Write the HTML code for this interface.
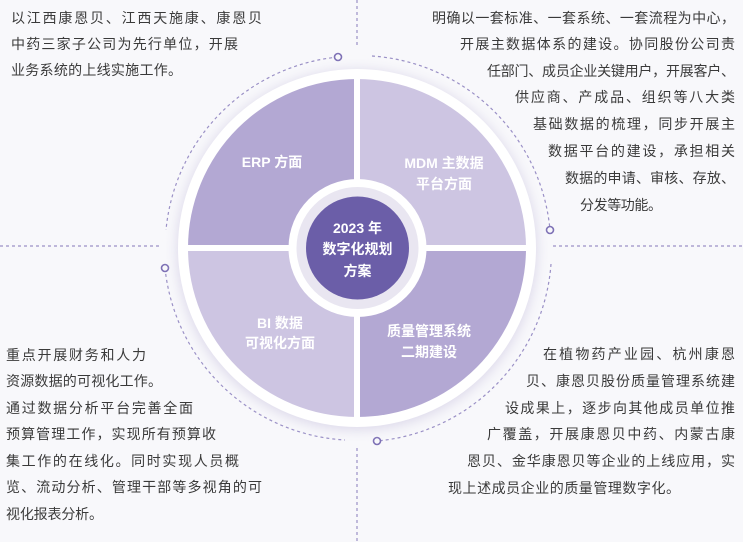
<!DOCTYPE html>
<html><head><meta charset="utf-8"><style>
html,body{margin:0;padding:0;background:#f8f8fb;}
svg{display:block;}
text{font-family:"Liberation Sans","Noto Sans CJK SC",sans-serif;}
.t{font-size:14px;fill:#3a3a3a;}
.w{font-size:14px;fill:#fff;font-weight:bold;}
</style></head><body>
<svg width="743" height="542" viewBox="0 0 743 542" xmlns="http://www.w3.org/2000/svg">
<defs>
<filter id="sh" x="-20%" y="-20%" width="140%" height="140%"><feGaussianBlur stdDeviation="6"/></filter>
</defs>
<rect width="743" height="542" fill="#f8f8fb"/>
<!-- dashed guide lines -->
<g stroke="#9a90c6" stroke-width="1.2" stroke-dasharray="3,3" fill="none">
<line x1="357" y1="0" x2="357" y2="48"/>
<line x1="357" y1="448" x2="357" y2="542"/>
<line x1="0" y1="246" x2="160" y2="246"/>
<line x1="553" y1="246" x2="743" y2="246"/>
<path d="M338 57 A192 192 0 0 0 166 230"/>
<path d="M372 56 A192 192 0 0 1 550 230"/>
<path d="M551 264 A192 192 0 0 1 377 441"/>
<path d="M165 268 A192 192 0 0 0 345 440"/>
</g>
<g fill="#f8f8fb" stroke="#7d70b5" stroke-width="1.6">
<circle cx="338" cy="57" r="3.5"/>
<circle cx="550" cy="230" r="3.5"/>
<circle cx="165" cy="268" r="3.5"/>
<circle cx="377" cy="441" r="3.5"/>
</g>
<!-- disc -->
<circle cx="357" cy="250" r="180" fill="#dcd8ea" filter="url(#sh)"/>
<circle cx="357" cy="248" r="179" fill="#fff"/>
<clipPath id="c"><circle cx="357" cy="248" r="169"/></clipPath>
<g clip-path="url(#c)">
<rect x="180" y="70" width="174" height="175" fill="#b3a8d3"/>
<rect x="360" y="70" width="180" height="175" fill="#cdc5e2"/>
<rect x="180" y="251" width="174" height="180" fill="#cdc5e2"/>
<rect x="360" y="251" width="180" height="180" fill="#b3a8d3"/>
</g>
<circle cx="357.5" cy="248" r="69" fill="#fff"/>
<circle cx="357.5" cy="248" r="61" fill="#e9e6f1"/>
<circle cx="357.5" cy="248" r="51.5" fill="#6b5ea8"/>
<g text-anchor="middle">
<text class="w" x="272" y="167">ERP 方面</text>
<text class="w" x="444" y="168">MDM 主数据</text>
<text class="w" x="444" y="189">平台方面</text>
<text class="w" x="280" y="328">BI 数据</text>
<text class="w" x="280" y="348">可视化方面</text>
<text class="w" x="429" y="336">质量管理系统</text>
<text class="w" x="429" y="357">二期建设</text>
<text class="w" x="357.5" y="233">2023 年</text>
<text class="w" x="357.5" y="254">数字化规划</text>
<text class="w" x="357.5" y="276">方案</text>
</g>
<!-- top-left -->
<text class="t" x="11" y="23" textLength="251" lengthAdjust="spacing">以江西康恩贝、江西天施康、康恩贝</text>
<text class="t" x="11" y="49" textLength="227" lengthAdjust="spacing">中药三家子公司为先行单位，开展</text>
<text class="t" x="11" y="75" textLength="171" lengthAdjust="spacing">业务系统的上线实施工作。</text>
<!-- top-right -->
<text class="t" x="432" y="23" textLength="303" lengthAdjust="spacing">明确以一套标准、一套系统、一套流程为中心，</text>
<text class="t" x="460" y="49" textLength="275" lengthAdjust="spacing">开展主数据体系的建设。协同股份公司责</text>
<text class="t" x="487" y="76" textLength="248" lengthAdjust="spacing">任部门、成员企业关键用户，开展客户、</text>
<text class="t" x="515" y="102" textLength="220" lengthAdjust="spacing">供应商、产成品、组织等八大类</text>
<text class="t" x="533" y="129" textLength="202" lengthAdjust="spacing">基础数据的梳理，同步开展主</text>
<text class="t" x="548" y="156" textLength="187" lengthAdjust="spacing">数据平台的建设，承担相关</text>
<text class="t" x="565" y="183" textLength="170" lengthAdjust="spacing">数据的申请、审核、存放、</text>
<text class="t" x="580" y="210" textLength="82" lengthAdjust="spacing">分发等功能。</text>
<!-- bottom-left -->
<text class="t" x="6" y="360" textLength="140" lengthAdjust="spacing">重点开展财务和人力</text>
<text class="t" x="6" y="386" textLength="156" lengthAdjust="spacing">资源数据的可视化工作。</text>
<text class="t" x="6" y="413" textLength="187" lengthAdjust="spacing">通过数据分析平台完善全面</text>
<text class="t" x="6" y="439" textLength="210" lengthAdjust="spacing">预算管理工作，实现所有预算收</text>
<text class="t" x="6" y="466" textLength="233" lengthAdjust="spacing">集工作的在线化。同时实现人员概</text>
<text class="t" x="6" y="492" textLength="256" lengthAdjust="spacing">览、流动分析、管理干部等多视角的可</text>
<text class="t" x="6" y="519" textLength="97" lengthAdjust="spacing">视化报表分析。</text>
<!-- bottom-right -->
<text class="t" x="543" y="359" textLength="192" lengthAdjust="spacing">在植物药产业园、杭州康恩</text>
<text class="t" x="526" y="386" textLength="209" lengthAdjust="spacing">贝、康恩贝股份质量管理系统建</text>
<text class="t" x="505" y="413" textLength="230" lengthAdjust="spacing">设成果上，逐步向其他成员单位推</text>
<text class="t" x="487" y="439" textLength="248" lengthAdjust="spacing">广覆盖，开展康恩贝中药、内蒙古康</text>
<text class="t" x="467" y="466" textLength="268" lengthAdjust="spacing">恩贝、金华康恩贝等企业的上线应用，实</text>
<text class="t" x="448" y="493" textLength="232" lengthAdjust="spacing">现上述成员企业的质量管理数字化。</text>
</svg>
</body></html>
